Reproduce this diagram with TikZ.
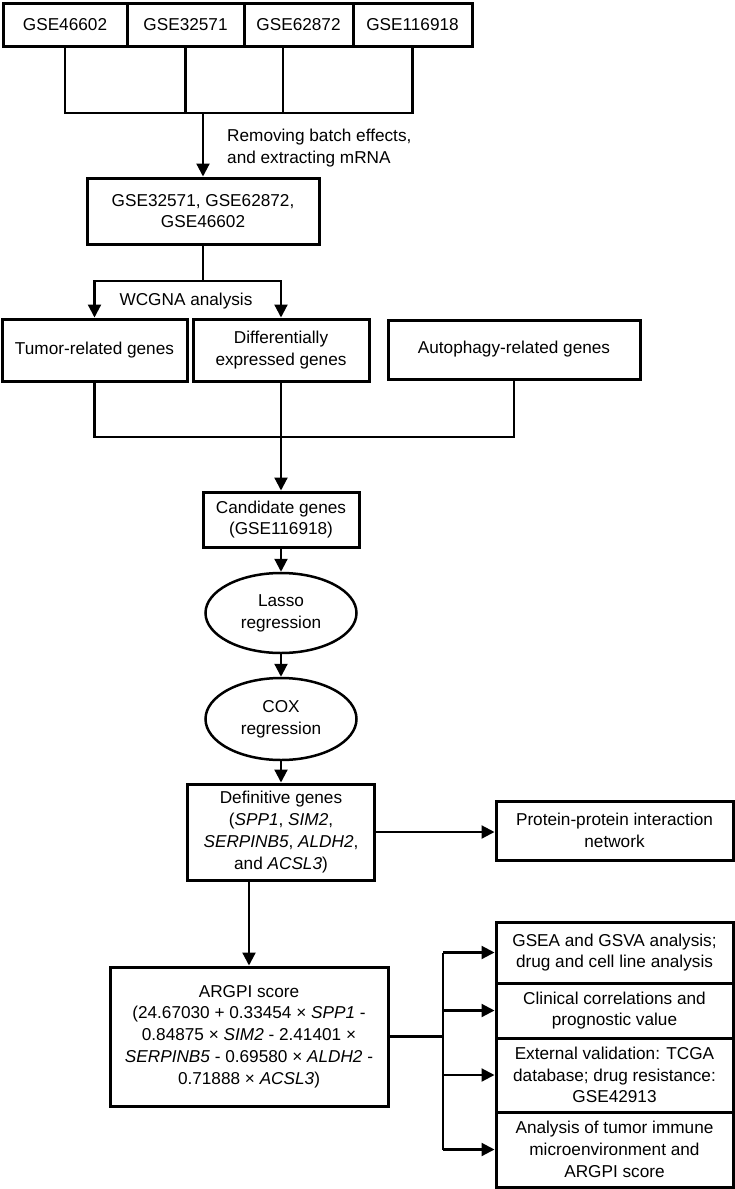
\documentclass[tikz,border=0pt]{standalone}
\usepackage{fontspec}
\setmainfont{Liberation Sans}
\usepackage{tikz}
\usetikzlibrary{arrows.meta,positioning,shapes.geometric,calc}

\begin{document}
\begin{tikzpicture}[x=1pt,y=1pt,
  box/.style={draw,line width=3pt,align=center,inner sep=2pt,
    font=\fontsize{17.2}{21.8}\selectfont},
  oval/.style={box,ellipse,line width=2.5pt},
  arr/.style={-{Triangle[length=13pt,width=13pt]},line width=2.2pt},
  line/.style={line width=2.2pt},
  note/.style={align=left,inner sep=0pt,font=\fontsize{17.2}{21.8}\selectfont}]
  \useasboundingbox (0,0) rectangle (735,-1189);
  \node[box,minimum width=124,minimum height=43] (g1) at (65,-24.5) {GSE46602};
  \node[box,minimum width=117,minimum height=43] (g2) at (185.5,-24.5) {GSE32571};
  \node[box,minimum width=109,minimum height=43] (g3) at (298.5,-24.5) {GSE62872};
  \node[box,minimum width=119,minimum height=43] (g4) at (412.5,-24.5) {GSE116918};
  \coordinate (bar) at (0,-113);
  \node[box,minimum width=232,minimum height=66] (merged) at (203,-211)
    {GSE32571, GSE62872,\\GSE46602};
  \node[note,anchor=west] (rmnote) at (227,-148)
    {Removing batch effects,\\and extracting mRNA};
  \coordinate (split) at (203,-281);
  \node[note] (wcgna) at (186,-301) {WCGNA analysis};
  \node[box,minimum width=185,minimum height=62] (tumor) at (94.5,-350)
    {Tumor-related genes};
  \node[box,minimum width=176,minimum height=62] (diff) at (281,-350)
    {Differentially\\expressed genes};
  \node[box,minimum width=252,minimum height=59] (auto) at (514,-349.5)
    {Autophagy-related genes};
  \coordinate (join) at (0,-437);
  \node[box,minimum width=156,minimum height=55] (cand) at (281,-519.5)
    {Candidate genes\\(GSE116918)};
  \node[oval,minimum width=151,minimum height=80] (lasso) at (281,-613)
    {Lasso\\regression};
  \node[oval,minimum width=151,minimum height=82] (cox) at (281,-719)
    {COX\\regression};
  \node[box,minimum width=187,minimum height=96] (def) at (281,-832)
    {Definitive genes\\(\textit{SPP1}, \textit{SIM2},\\
     \textit{SERPINB5}, \textit{ALDH2},\\and \textit{ACSL3})};
  \node[box,minimum width=237,minimum height=59] (ppi) at (614.5,-830.5)
    {Protein-protein interaction\\network};
  \node[box,minimum width=278,minimum height=139] (argpi) at (249,-1036.5)
    {ARGPI score\\(24.67030 + 0.33454 × \textit{SPP1} -\\
     0.84875 × \textit{SIM2} - 2.41401 ×\\
     \textit{SERPINB5} - 0.69580 × \textit{ALDH2} -\\
     0.71888 × \textit{ACSL3})};
  \coordinate (bus) at (443,-1037);
  \node[box,minimum width=237,minimum height=61] (gsea) at (614.5,-952.5)
    {GSEA and GSVA analysis;\\drug and cell line analysis};
  \node[box,minimum width=237,minimum height=55] (clin) at (614.5,-1010.5)
    {Clinical correlations and\\prognostic value};
  \node[box,minimum width=237,minimum height=74] (ext) at (614.5,-1075)
    {External validation: TCGA\\database; drug resistance:\\GSE42913};
  \node[box,minimum width=237,minimum height=75] (anal) at (614.5,-1149.5)
    {Analysis of tumor immune\\microenvironment and\\ARGPI score};
  \draw[line] (g1.south) |- (g4.south |- bar) -- (g4.south);
  \draw[line] (g2.south) -- (g2.south |- bar);
  \draw[line] ($(g3.south)+(-15.5,0)$) coordinate (g3d) -- (g3d |- bar);
  \draw[arr] (merged.north |- bar) -- (merged.north);
  \draw[line] (merged.south) -- (split);
  \draw[arr] (split) -| (tumor.north);
  \draw[arr] (split) -| (diff.north);
  \draw[line] (tumor.south) |- (auto.south |- join) -- (auto.south);
  \draw[arr] (diff.south) -- (cand.north);
  \draw[arr] (cand) -- (lasso);
  \draw[arr] (lasso) -- (cox);
  \draw[arr] (cox) -- (def);
  \draw[arr] (def.east) -- (def.east -| ppi.west);
  \draw[arr] (argpi.north |- def.south) -- (argpi.north);
  \draw[line] (argpi.east) -- (argpi.east -| bus);
  \draw[line] (bus |- gsea.west) -- (bus |- anal.west);
  \draw[arr] (bus |- gsea.west) -- (gsea.west);
  \draw[arr] (bus |- clin.west) -- (clin.west);
  \draw[arr] (bus |- ext.west) -- (ext.west);
  \draw[arr] (bus |- anal.west) -- (anal.west);
\end{tikzpicture}
\end{document}
